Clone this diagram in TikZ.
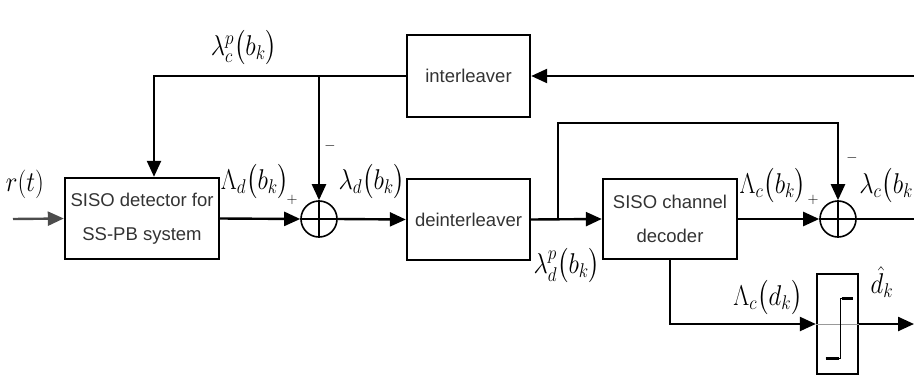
\documentclass[tikz,border=0pt]{standalone}
\usepackage{fontspec}
\setmainfont{Liberation Sans}
\usepackage{amsmath}
\usepackage{graphicx}
\usetikzlibrary{arrows.meta,calc}
\newcommand{\tall}[1]{\scalebox{1}[1.15]{#1}}
\begin{document}
\begin{tikzpicture}[x=1pt,y=-1pt,
  blk/.style={draw,line width=2.4pt,minimum height=81pt,align=center,inner sep=0pt,
    font=\fontsize{18.5}{34}\selectfont,text=black!80},
  sumnode/.style={draw,circle,line width=1.6pt,minimum size=36pt,inner sep=0pt},
  wire/.style={line width=2.4pt},
  arr/.style={wire,-{Triangle[length=16pt,width=14pt]}},
  lbl/.style={inner sep=0pt,font=\fontsize{26}{30}\selectfont},
  sgn/.style={inner sep=0pt,font=\fontsize{15}{16}\selectfont}]
\useasboundingbox (0,0) rectangle (914,380);
% blocks
\node[blk,minimum width=154pt] (det) at (142,218.5) {SISO detector for\\SS-PB system};
\node[blk,minimum width=123pt] (deint) at (468.5,219.5) {deinterleaver};
\node[blk,minimum width=123pt,minimum height=82pt] (intl) at (468.5,76) {interleaver};
\node[blk,minimum width=134pt,minimum height=80pt] (dec) at (670,219) {SISO channel\\decoder};
\node[sumnode] (add1) at (319,219) {};
\node[sumnode] (add2) at (838,219) {};
\draw[line width=1.4pt] (add1.north) -- (add1.south) (add1.west) -- (add1.east);
\draw[line width=1.4pt] (add2.north) -- (add2.south) (add2.west) -- (add2.east);
\node[draw,line width=2.4pt,minimum width=41pt,minimum height=100pt,inner sep=0pt] (dsn) at (837.5,324) {};
\draw[black!40,line width=1pt] (dsn.west) -- (dsn.east);
\draw[line width=1pt] ($(dsn.center)+(-12,34)$) -- ($(dsn.center)+(2.5,34)$) -- ($(dsn.center)+(2.5,-26)$) -- ($(dsn.center)+(15,-26)$);
\draw[line width=3pt] ($(dsn.center)+(-12,34)$) -- ($(dsn.center)+(1,34)$);
\draw[line width=3pt] ($(dsn.center)+(4,-26)$) -- ($(dsn.center)+(15,-26)$);
% coordinates
\coordinate (in) at (13,219);
\coordinate (br) at (558,219);
\coordinate (top2) at (838,123);
\coordinate (out1) at (914,219);
\coordinate (fbR) at (914,76);
\coordinate (fbL) at (154,76);
\coordinate (fbJ) at (319,76);
\coordinate (out2) at (914,324);
% connectors
\draw[arr,black!70] (in) -- (det.west);
\draw[arr] (det.east) -- (add1.west);
\draw[arr] (add1.east) -- (deint.west);
\draw[arr] (deint.east) -- (dec.west);
\draw[arr] (br) |- (top2) -- (add2.north);
\draw[arr] (dec.east) -- (add2.west);
\draw[wire] (add2.east) -- (out1);
\draw[arr] (fbR) -- (intl.east);
\draw[arr] (intl.west) -- (fbL) -- (fbL |- det.north);
\draw[arr] (fbJ) -- (add1.north);
\draw[arr] (dec.south) |- (dsn.west);
\draw[arr] (dsn.east) -- (out2);
% labels
\node[lbl] (l1) at (244,48) {\tall{$\lambda_c^p\bigl(b_k\bigr)$}};
\node[lbl] (l2) at (25,184) {\tall{$r(t)$}};
\node[lbl] (l3) at (255,182) {\tall{$\Lambda_d\bigl(b_k\bigr)$}};
\node[sgn] (p1) at (292,200) {$+$};
\node[sgn] (m1) at (330,146) {$-$};
\node[lbl] (l4) at (372,182) {\tall{$\lambda_d\bigl(b_k\bigr)$}};
\node[lbl] (l5) at (773,186) {\tall{$\Lambda_c\bigl(b_k\bigr)$}};
\node[sgn] (p2) at (813,200) {$+$};
\node[sgn] (m2) at (852,158) {$-$};
\node[lbl] (l6) at (892,186) {\tall{$\lambda_c\bigl(b_k\bigr)$}};
\node[lbl] (l7) at (567,266) {\tall{$\lambda_d^p\bigl(b_k\bigr)$}};
\node[lbl] (l8) at (768,298) {\tall{$\Lambda_c\bigl(d_k\bigr)$}};
\node[lbl] (l9) at (882,282) {\tall{$\hat{d}_k$}};
\end{tikzpicture}
\end{document}
